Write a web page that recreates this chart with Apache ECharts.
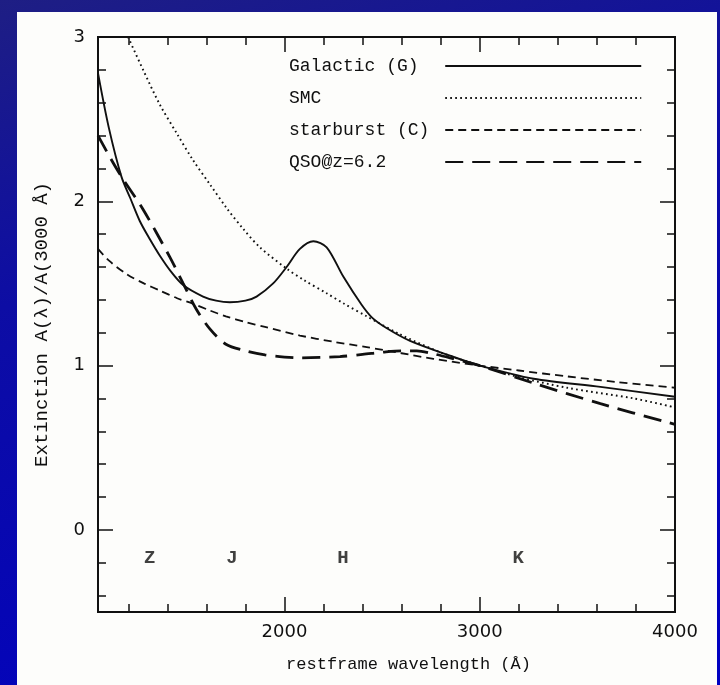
<!DOCTYPE html>
<html>
<head>
<meta charset="utf-8">
<script src="https://cdn.jsdelivr.net/npm/echarts@6/dist/echarts.min.js"></script>
<style>
  html, body { margin: 0; padding: 0; }
  #frame { position: relative; width: 720px; height: 685px; overflow: hidden;
           background: linear-gradient(165deg, #1e1e84 0%, #0d0da4 35%, #0000c2 100%); }
  #page { position: absolute; left: 17px; top: 12px; width: 700px; height: 673px; background: #fdfdfb; }
  #chart { position: absolute; left: 0; top: 0; width: 720px; height: 685px; }
</style>
</head>
<body>
<div id="frame">
  <div id="page"></div>
  <div id="chart"></div>
</div>
<script>
// Extinction curves normalised at 3000 A: [wavelength (A), A(lambda)/A(3000)]
const galactic = [
  [1045, 2.78], [1100, 2.45], [1165, 2.15], [1210, 2.02], [1259, 1.88], [1310, 1.77],
  [1361, 1.67], [1420, 1.57], [1481, 1.49], [1583, 1.42], [1650, 1.395], [1720, 1.385],
  [1800, 1.395], [1857, 1.42], [1942, 1.50], [2011, 1.60], [2079, 1.71], [2148, 1.757],
  [2216, 1.72], [2302, 1.54], [2395, 1.37], [2450, 1.29], [2520, 1.23], [2643, 1.15],
  [2848, 1.06], [3000, 1.00], [3276, 0.92], [3618, 0.87], [4000, 0.81]
];
const smc = [
  [1199, 3.00], [1276, 2.80], [1361, 2.59], [1450, 2.41], [1532, 2.25], [1620, 2.10],
  [1703, 1.96], [1790, 1.83], [1874, 1.72], [2011, 1.59], [2100, 1.52], [2216, 1.44],
  [2300, 1.38], [2421, 1.30], [2592, 1.19], [2800, 1.08], [3000, 1.00], [3200, 0.93],
  [3447, 0.865], [3789, 0.80], [4000, 0.745]
];
const starburst = [
  [1045, 1.71], [1100, 1.64], [1190, 1.558], [1280, 1.50], [1361, 1.457], [1450, 1.41],
  [1532, 1.376], [1618, 1.335], [1700, 1.30], [1800, 1.265], [1900, 1.235], [2079, 1.183],
  [2250, 1.145], [2421, 1.112], [2600, 1.075], [2763, 1.041], [3000, 1.00], [3200, 0.97],
  [3447, 0.934], [3700, 0.90], [4000, 0.865]
];
const qso = [
  [1045, 2.40], [1105, 2.27], [1165, 2.15], [1276, 1.95], [1413, 1.66], [1481, 1.50],
  [1550, 1.34], [1620, 1.22], [1700, 1.13], [1800, 1.09], [1900, 1.065], [2000, 1.052],
  [2079, 1.047], [2284, 1.055], [2400, 1.068], [2506, 1.082], [2600, 1.09], [2678, 1.09],
  [2750, 1.075], [2848, 1.047], [3000, 1.00], [3276, 0.893], [3618, 0.768], [4000, 0.642]
];
const seriesNames = ['Galactic (G)', 'SMC', 'starburst (C)', 'QSO@z=6.2'];

// Near-IR bands redshifted to the rest frame of a z=6.2 quasar
const bandNames = ['Z', 'J', 'H', 'K'];
const bandWaves = [1310, 1731, 2300, 3197];
const bandLevel = -0.17;

// Axis ranges and tick positions
const xMin = 1045, xMax = 4000;
const yMin = -0.5, yMax = 3;
const xLabelValues = [2000, 3000, 4000];
const xMinorTicks = [1200, 1400, 1600, 1800, 2000, 2200, 2400, 2600, 2800, 3000, 3200, 3400, 3600, 3800];
const xMajorTicks = [2000, 3000];
const yLabelValues = [0, 1, 2, 3];
const yMinorTicks = [-0.4, -0.2, 0, 0.2, 0.4, 0.6, 0.8, 1, 1.2, 1.4, 1.6, 1.8, 2, 2.2, 2.4, 2.6, 2.8];
const yMajorTicks = [0, 1, 2];

const ink = '#101010';
const monoFont = '"Liberation Mono", "DejaVu Sans Mono", monospace';
const numFont = '"DejaVu Sans", sans-serif';
const plain = v => String(v);

function xAx(position, ticks, len, withLabels, extra) {
  return Object.assign({
    type: 'value', position: position, min: xMin, max: xMax,
    axisLine: { show: true, onZero: false, lineStyle: { color: ink, width: 1.8 } },
    splitLine: { show: false },
    axisTick: { show: true, inside: true, length: len, customValues: ticks, lineStyle: { color: ink, width: 1.5 } },
    axisLabel: withLabels ? {
      show: true, customValues: xLabelValues, margin: 11, color: ink, formatter: plain,
      fontFamily: numFont, fontSize: 18, showMinLabel: true, showMaxLabel: true
    } : { show: false }
  }, extra || {});
}
function yAx(position, ticks, len, withLabels, extra) {
  return Object.assign({
    type: 'value', position: position, min: yMin, max: yMax,
    axisLine: { show: true, onZero: false, lineStyle: { color: ink, width: 1.8 } },
    splitLine: { show: false },
    axisTick: { show: true, inside: true, length: len, customValues: ticks, lineStyle: { color: ink, width: 1.5 } },
    axisLabel: withLabels ? {
      show: true, customValues: yLabelValues, margin: 13, color: ink, formatter: plain,
      fontFamily: numFont, fontSize: 18, showMinLabel: true, showMaxLabel: true
    } : { show: false }
  }, extra || {});
}

function curve(name, data, width, type) {
  return {
    name: name, type: 'line', data: data, xAxisIndex: 0, yAxisIndex: 0,
    symbol: 'none', smooth: 0.3, silent: true,
    lineStyle: { color: ink, width: width, type: type, cap: 'butt' },
    itemStyle: { color: ink }
  };
}

const pad = s => s + ' '.repeat(Math.max(0, 14 - s.length));

const chart = echarts.init(document.getElementById('chart'), null, { renderer: 'canvas' });
chart.setOption({
  backgroundColor: 'transparent',
  animation: false,
  grid: { left: 98, right: 45, top: 37, bottom: 73, outerBoundsMode: 'none' },
  xAxis: [
    xAx('bottom', xMinorTicks, 8, true, {
      name: 'restframe wavelength (Å)', nameLocation: 'middle', nameGap: 44,
      nameTextStyle: { fontFamily: monoFont, fontSize: 17, color: ink, padding: [0, 0, 0, 44] }
    }),
    xAx('bottom', xMajorTicks, 15, false),
    xAx('top', xMinorTicks, 8, false),
    xAx('top', xMajorTicks, 15, false)
  ],
  yAxis: [
    yAx('left', yMinorTicks, 8, true, {
      name: 'Extinction A(λ)/A(3000 Å)', nameLocation: 'middle', nameGap: 47,
      nameTextStyle: { fontFamily: monoFont, fontSize: 19, color: ink }
    }),
    yAx('left', yMajorTicks, 15, false),
    yAx('right', yMinorTicks, 8, false),
    yAx('right', yMajorTicks, 15, false)
  ],
  legend: {
    data: seriesNames, orient: 'vertical', left: 284, top: 52,
    align: 'right', itemWidth: 196, itemHeight: 14, itemGap: 14, selectedMode: false,
    itemStyle: { opacity: 0, borderWidth: 0 },
    formatter: name => pad(name),
    textStyle: { fontFamily: monoFont, fontSize: 18, color: ink }
  },
  series: [
    curve(seriesNames[0], galactic, 1.9, 'solid'),
    curve(seriesNames[1], smc, 1.9, [1.7, 3.3]),
    curve(seriesNames[2], starburst, 1.8, [8, 5]),
    curve(seriesNames[3], qso, 2.8, [18, 9]),
    {
      name: 'bands', type: 'scatter', silent: true, symbolSize: 0,
      data: bandWaves.map((w, i) => ({ value: [w, bandLevel], name: bandNames[i] })),
      label: {
        show: true, position: 'inside', formatter: p => p.name,
        fontFamily: monoFont, fontSize: 19, fontWeight: 'bold', color: ink
      }
    }
  ]
});
</script>
</body>
</html>
